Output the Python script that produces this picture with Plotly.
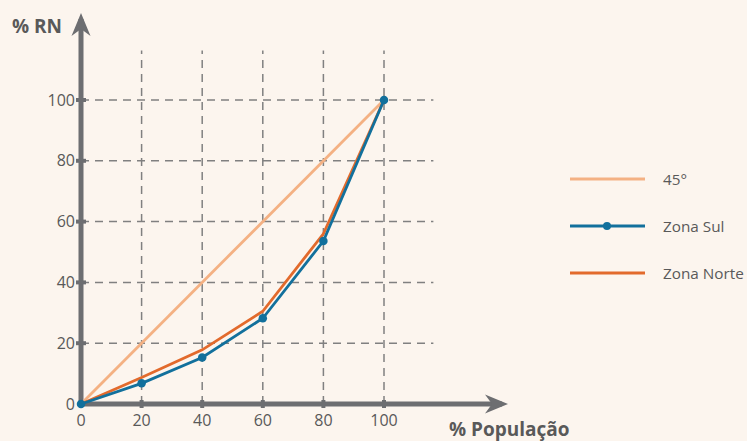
import plotly.graph_objects as go

# ---- data ----
pop_pct = [0, 20, 40, 60, 80, 100]
linha_45 = [0, 20, 40, 60, 80, 100]
zona_sul = [0, 6.8, 15.3, 28.2, 53.6, 100]
zona_norte = [0, 8.7, 17.8, 30.5, 56.0, 100]
tick_vals = [0, 20, 40, 60, 80, 100]
grid_vals = [20, 40, 60, 80, 100]
legend_names = ["45°", "Zona Sul", "Zona Norte"]

# ---- style ----
W, H = 747, 441
X0PX, Y0PX = 81, 404          # pixel of data origin
XPX, YPX = 3.03, 3.04         # pixels per data unit
BG = "#FCF5EE"
AXIS_C = "#6D6E71"
GRID_C = "#808080"
TXT_C = "#595959"
C45 = "#F4B183"
CSUL = "#12709C"
CNORTE = "#E26A2C"
FONT = "Open Sans"

xr = [-X0PX / XPX, (W - X0PX) / XPX]
yr = [-(H - Y0PX) / YPX, Y0PX / YPX]

fig = go.Figure()
fig.add_trace(go.Scatter(x=pop_pct, y=linha_45, mode="lines", name=legend_names[0],
                         line=dict(color=C45, width=2.8), cliponaxis=False, showlegend=False))
fig.add_trace(go.Scatter(x=pop_pct, y=zona_norte, mode="lines", name=legend_names[2],
                         line=dict(color=CNORTE, width=2.8), cliponaxis=False, showlegend=False))
fig.add_trace(go.Scatter(x=pop_pct, y=zona_sul, mode="lines+markers", name=legend_names[1],
                         line=dict(color=CSUL, width=2.8), marker=dict(color=CSUL, size=8.5),
                         cliponaxis=False, showlegend=False))

shapes = []
grid_end = 116.3
for g in grid_vals:
    shapes.append(dict(type="line", xref="x", yref="y", x0=g, x1=g, y0=0, y1=grid_end,
                       line=dict(color=GRID_C, width=1.5, dash="8px,6px"), layer="below"))
    shapes.append(dict(type="line", xref="x", yref="y", x0=0, x1=grid_end, y0=g, y1=g,
                       line=dict(color=GRID_C, width=1.5, dash="8px,6px"), layer="below"))

# axes lines
x_tip = (508 - X0PX) / XPX
y_tip = (Y0PX - 13) / YPX
shapes.append(dict(type="line", xref="x", yref="y", x0=-0.8, x1=x_tip - 6 / XPX, y0=0, y1=0,
                   line=dict(color=AXIS_C, width=5), layer="below"))
shapes.append(dict(type="line", xref="x", yref="y", x0=0, x1=0, y0=-0.8, y1=y_tip - 6 / YPX,
                   line=dict(color=AXIS_C, width=5), layer="below"))
# arrow heads
hl, hw, nt = 23, 9.5, 16
shapes.append(dict(type="path", xref="x", yref="y", fillcolor=AXIS_C, line=dict(width=0),
                   path=f"M {x_tip},0 L {x_tip - hl / XPX},{hw / YPX} L {x_tip - nt / XPX},0 "
                        f"L {x_tip - hl / XPX},{-hw / YPX} Z"))
shapes.append(dict(type="path", xref="x", yref="y", fillcolor=AXIS_C, line=dict(width=0),
                   path=f"M 0,{y_tip} L {hw / XPX},{y_tip - hl / YPX} L 0,{y_tip - nt / YPX} "
                        f"L {-hw / XPX},{y_tip - hl / YPX} Z"))
# tick marks
for g in grid_vals:
    shapes.append(dict(type="line", xref="x", yref="y", x0=g, x1=g, y0=-4 / YPX, y1=4 / YPX,
                       line=dict(color=AXIS_C, width=4)))
    shapes.append(dict(type="line", xref="x", yref="y", x0=-5 / XPX, x1=5 / XPX, y0=g, y1=g,
                       line=dict(color=AXIS_C, width=4)))

# legend (drawn manually)
leg_rows = [179, 226, 273]
leg_cols = [C45, CSUL, CNORTE]
annotations = []
for name, py, col in zip(legend_names, leg_rows, leg_cols):
    yp = 1 - py / H
    shapes.append(dict(type="line", xref="paper", yref="paper", x0=570 / W, x1=645 / W,
                       y0=yp, y1=yp, line=dict(color=col, width=3)))
    if name == "Zona Sul":
        shapes.append(dict(type="circle", xref="paper", yref="paper",
                           x0=(607 - 4) / W, x1=(607 + 4) / W, y0=yp - 4 / H, y1=yp + 4 / H,
                           fillcolor=col, line=dict(width=0)))
    annotations.append(dict(xref="paper", yref="paper", x=661 / W, y=yp, text=name,
                            showarrow=False, xanchor="left", yanchor="middle",
                            font=dict(family=FONT, size=15.3, color=TXT_C)))

annotations.append(dict(xref="paper", yref="paper", x=37 / W, y=1 - 26 / H, text="<b>% RN</b>",
                        showarrow=False, xanchor="center", yanchor="middle",
                        font=dict(family=FONT, size=19, color=TXT_C)))
annotations.append(dict(xref="paper", yref="paper", x=509 / W, y=1 - 429 / H,
                        text="<b>% População</b>", showarrow=False, xanchor="center",
                        yanchor="middle", font=dict(family=FONT, size=19, color=TXT_C)))

fig.update_layout(
    width=W, height=H, paper_bgcolor=BG, plot_bgcolor=BG,
    margin=dict(l=0, r=0, t=0, b=0),
    showlegend=False,
    shapes=shapes, annotations=annotations,
    xaxis=dict(range=xr, showgrid=False, zeroline=False, showline=False, ticks="",
               tickvals=tick_vals, ticktext=[str(v) for v in tick_vals],
               anchor="free", position=(H - Y0PX) / H, automargin=False,
               tickfont=dict(family=FONT, size=16, color=TXT_C), ticklabelstandoff=5),
    yaxis=dict(range=yr, showgrid=False, zeroline=False, showline=False, ticks="",
               tickvals=tick_vals, ticktext=[str(v) for v in tick_vals],
               anchor="free", position=X0PX / W, automargin=False,
               tickfont=dict(family=FONT, size=16, color=TXT_C), ticklabelstandoff=6),
)

fig.write_html("out.html", config={"displayModeBar": False},
               post_script="document.body.style.margin='0px';"
                           "document.body.style.overflow='hidden';"
                           f"document.body.style.background='{BG}';")
